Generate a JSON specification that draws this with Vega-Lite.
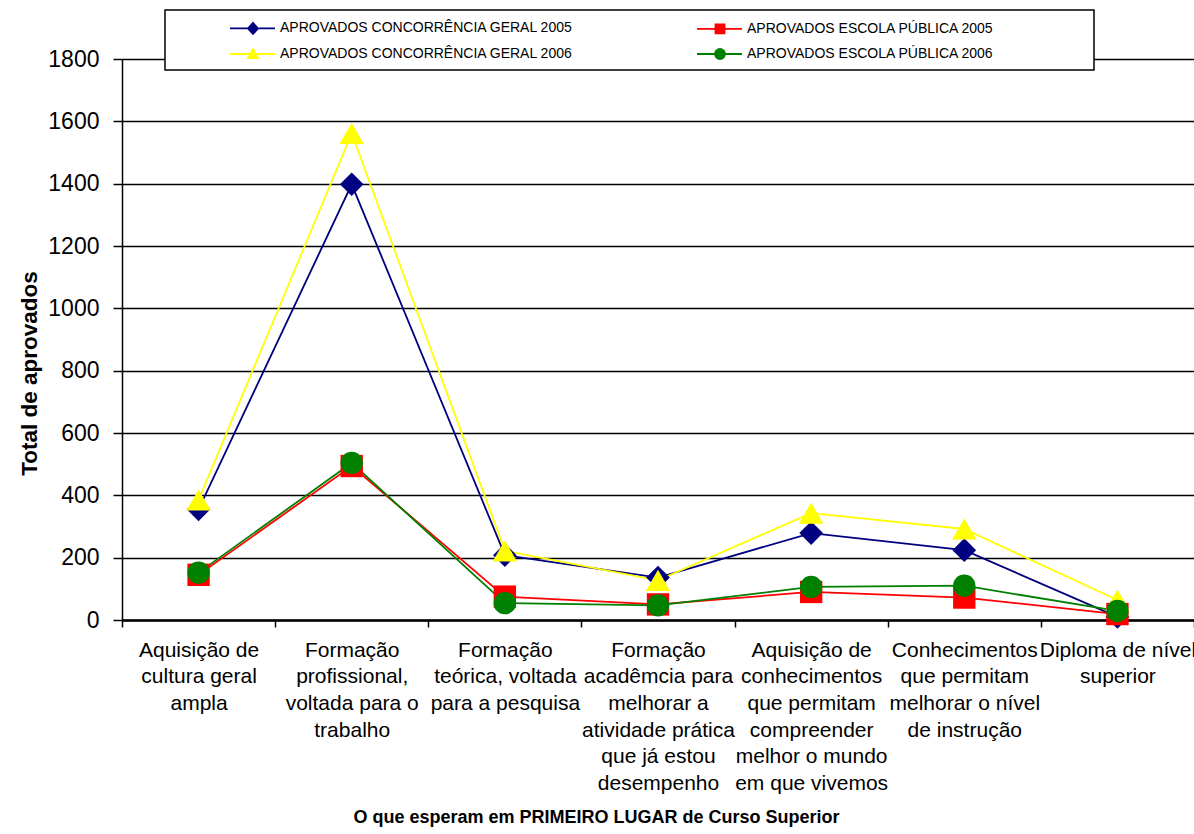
{
  "$schema": "https://vega.github.io/schema/vega-lite/v6.json",
  "width": 1072,
  "height": 561,
  "autosize": {"type": "none"},
  "padding": {"left": 122, "top": 59, "right": 0, "bottom": 214},
  "background": "#ffffff",
  "config": {
    "view": {"stroke": null},
    "font": "Liberation Sans"
  },
  "data": {
    "values": [
      {"cat": "Aquisição de|cultura geral|ampla", "serie": "APROVADOS CONCORRÊNCIA GERAL 2005", "v": 355},
      {"cat": "Formação|profissional,|voltada para o|trabalho", "serie": "APROVADOS CONCORRÊNCIA GERAL 2005", "v": 1398},
      {"cat": "Formação|teórica, voltada|para a pesquisa", "serie": "APROVADOS CONCORRÊNCIA GERAL 2005", "v": 208},
      {"cat": "Formação|acadêmcia para|melhorar a|atividade prática|que já estou|desempenho", "serie": "APROVADOS CONCORRÊNCIA GERAL 2005", "v": 136},
      {"cat": "Aquisição de|conhecimentos|que  permitam|compreender|melhor o mundo|em que vivemos", "serie": "APROVADOS CONCORRÊNCIA GERAL 2005", "v": 279},
      {"cat": "Conhecimentos|que permitam|melhorar o nível|de instrução", "serie": "APROVADOS CONCORRÊNCIA GERAL 2005", "v": 224},
      {"cat": "Diploma de nível|superior", "serie": "APROVADOS CONCORRÊNCIA GERAL 2005", "v": 10},
      {"cat": "Aquisição de|cultura geral|ampla", "serie": "APROVADOS ESCOLA PÚBLICA 2005", "v": 145},
      {"cat": "Formação|profissional,|voltada para o|trabalho", "serie": "APROVADOS ESCOLA PÚBLICA 2005", "v": 494},
      {"cat": "Formação|teórica, voltada|para a pesquisa", "serie": "APROVADOS ESCOLA PÚBLICA 2005", "v": 75},
      {"cat": "Formação|acadêmcia para|melhorar a|atividade prática|que já estou|desempenho", "serie": "APROVADOS ESCOLA PÚBLICA 2005", "v": 50},
      {"cat": "Aquisição de|conhecimentos|que  permitam|compreender|melhor o mundo|em que vivemos", "serie": "APROVADOS ESCOLA PÚBLICA 2005", "v": 90},
      {"cat": "Conhecimentos|que permitam|melhorar o nível|de instrução", "serie": "APROVADOS ESCOLA PÚBLICA 2005", "v": 72},
      {"cat": "Diploma de nível|superior", "serie": "APROVADOS ESCOLA PÚBLICA 2005", "v": 19},
      {"cat": "Aquisição de|cultura geral|ampla", "serie": "APROVADOS CONCORRÊNCIA GERAL 2006", "v": 385},
      {"cat": "Formação|profissional,|voltada para o|trabalho", "serie": "APROVADOS CONCORRÊNCIA GERAL 2006", "v": 1561},
      {"cat": "Formação|teórica, voltada|para a pesquisa", "serie": "APROVADOS CONCORRÊNCIA GERAL 2006", "v": 222},
      {"cat": "Formação|acadêmcia para|melhorar a|atividade prática|que já estou|desempenho", "serie": "APROVADOS CONCORRÊNCIA GERAL 2006", "v": 127},
      {"cat": "Aquisição de|conhecimentos|que  permitam|compreender|melhor o mundo|em que vivemos", "serie": "APROVADOS CONCORRÊNCIA GERAL 2006", "v": 343},
      {"cat": "Conhecimentos|que permitam|melhorar o nível|de instrução", "serie": "APROVADOS CONCORRÊNCIA GERAL 2006", "v": 292},
      {"cat": "Diploma de nível|superior", "serie": "APROVADOS CONCORRÊNCIA GERAL 2006", "v": 64},
      {"cat": "Aquisição de|cultura geral|ampla", "serie": "APROVADOS ESCOLA PÚBLICA 2006", "v": 152},
      {"cat": "Formação|profissional,|voltada para o|trabalho", "serie": "APROVADOS ESCOLA PÚBLICA 2006", "v": 504},
      {"cat": "Formação|teórica, voltada|para a pesquisa", "serie": "APROVADOS ESCOLA PÚBLICA 2006", "v": 54},
      {"cat": "Formação|acadêmcia para|melhorar a|atividade prática|que já estou|desempenho", "serie": "APROVADOS ESCOLA PÚBLICA 2006", "v": 47},
      {"cat": "Aquisição de|conhecimentos|que  permitam|compreender|melhor o mundo|em que vivemos", "serie": "APROVADOS ESCOLA PÚBLICA 2006", "v": 106},
      {"cat": "Conhecimentos|que permitam|melhorar o nível|de instrução", "serie": "APROVADOS ESCOLA PÚBLICA 2006", "v": 110},
      {"cat": "Diploma de nível|superior", "serie": "APROVADOS ESCOLA PÚBLICA 2006", "v": 29}
    ]
  },
  "encoding": {
    "x": {
      "field": "cat", "type": "nominal", "sort": null,
      "scale": {"type": "band", "paddingInner": 0, "paddingOuter": 0},
      "axis": {
        "orient": "bottom",
        "labelExpr": "split(datum.label, '|')",
        "labelAngle": 0,
        "labelFont": "Liberation Sans",
        "labelFontSize": 21,
        "labelLineHeight": 26.7,
        "labelBaseline": "top",
        "labelAlign": "center",
        "labelPadding": 12,
        "labelLimit": 0,
        "labelOverlap": false,
        "labelFlush": false,
        "labelColor": "#000000",
        "tickBand": "extent",
        "tickSize": 7,
        "tickWidth": 1.5,
        "tickColor": "#000000",
        "domainColor": "#000000",
        "domainWidth": 2.5,
        "grid": false,
        "title": "O que esperam em PRIMEIRO LUGAR de Curso Superior",
        "titleFont": "Liberation Sans",
        "titleFontSize": 18,
        "titleFontWeight": "bold",
        "titleColor": "#000000",
        "titleX": 474,
        "titleY": 202,
        "titleAlign": "center",
        "titleBaseline": "alphabetic"
      }
    },
    "y": {
      "field": "v", "type": "quantitative",
      "scale": {"domain": [0, 1800], "nice": false},
      "axis": {
        "values": [0, 200, 400, 600, 800, 1000, 1200, 1400, 1600, 1800],
        "format": "d",
        "grid": true,
        "gridColor": "#000000",
        "gridWidth": 1.5,
        "gridOpacity": 1,
        "domainColor": "#000000",
        "domainWidth": 1.5,
        "tickColor": "#000000",
        "tickSize": 9,
        "tickWidth": 1.5,
        "labelFont": "Liberation Sans",
        "labelFontSize": 23,
        "labelColor": "#000000",
        "labelPadding": 14,
        "title": "Total de aprovados",
        "titleFont": "Liberation Sans",
        "titleFontSize": 22.5,
        "titleFontWeight": "bold",
        "titleColor": "#000000",
        "titleAngle": -90,
        "titleX": -86,
        "titleY": 314,
        "titleAlign": "center",
        "titleBaseline": "alphabetic"
      }
    }
  },
  "layer": [
    {
      "mark": {"type": "line", "strokeWidth": 1.8},
      "encoding": {
        "stroke": {
          "field": "serie", "type": "nominal",
          "scale": {
            "domain": ["APROVADOS CONCORRÊNCIA GERAL 2005", "APROVADOS CONCORRÊNCIA GERAL 2006", "APROVADOS ESCOLA PÚBLICA 2005", "APROVADOS ESCOLA PÚBLICA 2006"],
            "range": ["#000080", "#ffff00", "#ff0000", "#008000"]
          },
          "legend": {
            "orient": "none",
            "legendX": 43,
            "legendY": -49,
            "columns": 2,
            "title": null,
            "padding": 7,
            "strokeColor": "#000000",
            "fillColor": "#ffffff",
            "labelFont": "Liberation Sans",
            "labelFontSize": 14,
            "labelColor": "#000000",
            "labelLimit": 600,
            "labelOffset": 86,
            "columnPadding": 65,
            "rowPadding": 5,
            "symbolSize": 400,
            "symbolStrokeWidth": 1.8,
            "encode": {
              "symbols": {
                "update": {
                  "shape": {"signal": "indexof(datum.value,'CONCORR')>=0 ? (indexof(datum.value,'2005')>=0 ? 'M4.7,0H9.2M7,-0.55L7.5,0L7,0.55L6.5,0Z' : 'M4.7,0H9.2M7,-0.5L7.5,0.4L6.5,0.4Z') : (indexof(datum.value,'2005')>=0 ? 'M4.7,0H9.2M6.55,-0.45H7.45V0.45H6.55ZM43.3,0' : 'M4.7,0H9.2M6.5,0A0.5,0.5 0 1,0 7.5,0A0.5,0.5 0 1,0 6.5,0ZM43.3,0')"},
                  "fill": {"scale": "stroke", "field": "value"},
                  "stroke": {"scale": "stroke", "field": "value"},
                  "opacity": {"value": 1}
                }
              },
              "legend": {
                "update": {"strokeWidth": {"value": 1.5}}
              }
            }
          }
        }
      }
    },
    {
      "transform": [{"filter": {"field": "serie", "equal": "APROVADOS CONCORRÊNCIA GERAL 2005"}}],
      "mark": {"type": "point", "shape": "diamond", "size": 560, "filled": true, "opacity": 1, "strokeWidth": 0},
      "encoding": {"fill": {"field": "serie", "type": "nominal", "legend": null, "scale": {"domain": ["APROVADOS CONCORRÊNCIA GERAL 2005", "APROVADOS CONCORRÊNCIA GERAL 2006", "APROVADOS ESCOLA PÚBLICA 2005", "APROVADOS ESCOLA PÚBLICA 2006"], "range": ["#000080", "#ffff00", "#ff0000", "#008000"]}}}
    },
    {
      "transform": [{"filter": {"field": "serie", "equal": "APROVADOS ESCOLA PÚBLICA 2005"}}],
      "mark": {"type": "point", "shape": "square", "size": 500, "filled": true, "opacity": 1, "strokeWidth": 0},
      "encoding": {"fill": {"field": "serie", "type": "nominal", "legend": null}}
    },
    {
      "transform": [{"filter": {"field": "serie", "equal": "APROVADOS CONCORRÊNCIA GERAL 2006"}}],
      "mark": {"type": "point", "shape": "triangle-up", "size": 600, "filled": true, "opacity": 1, "strokeWidth": 0},
      "encoding": {"fill": {"field": "serie", "type": "nominal", "legend": null}}
    },
    {
      "transform": [{"filter": {"field": "serie", "equal": "APROVADOS ESCOLA PÚBLICA 2006"}}],
      "mark": {"type": "point", "shape": "circle", "size": 500, "filled": true, "opacity": 1, "strokeWidth": 0},
      "encoding": {"fill": {"field": "serie", "type": "nominal", "legend": null}}
    }
  ]
}
